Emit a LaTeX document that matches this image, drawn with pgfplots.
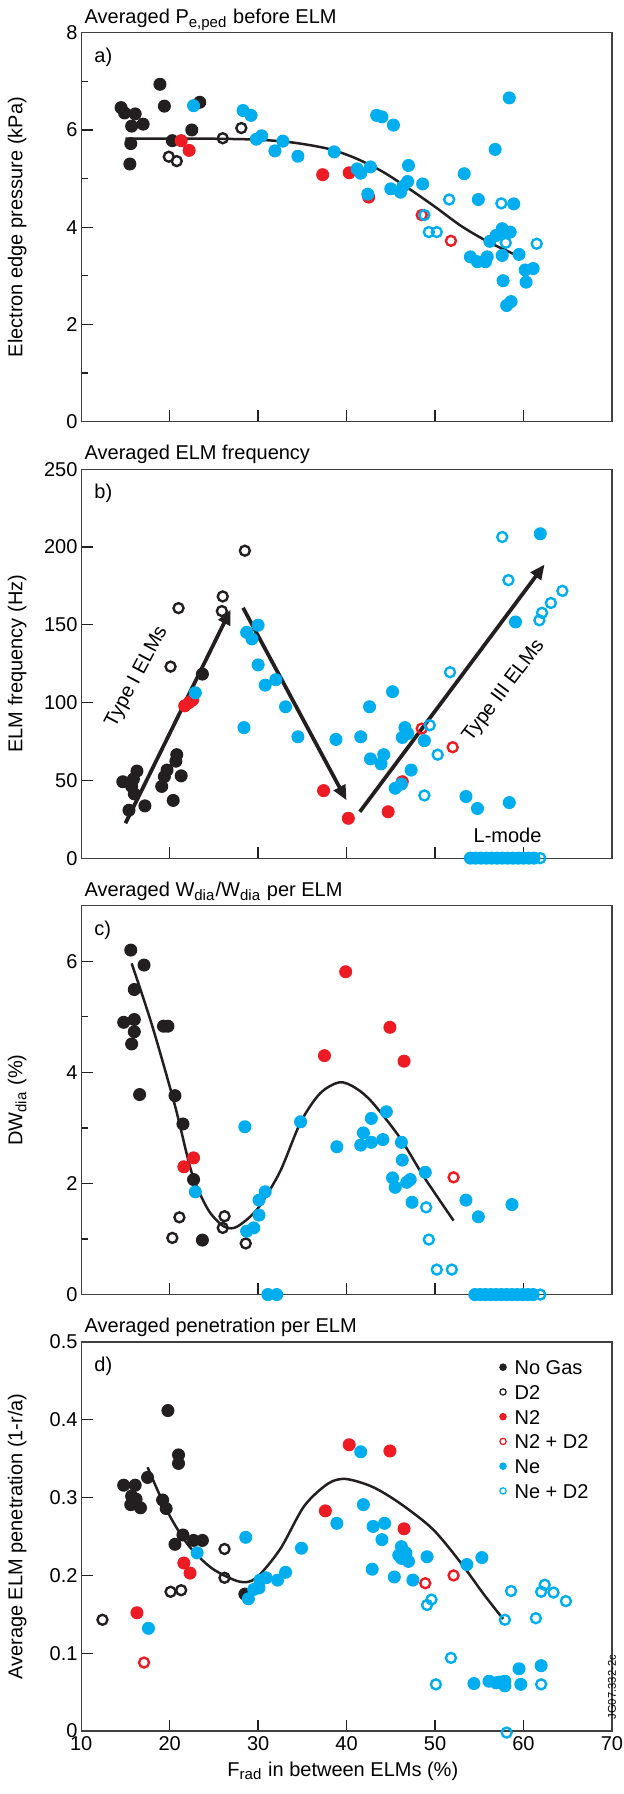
\documentclass[border=0pt]{standalone}
\usepackage{fontspec}
\setmainfont{Liberation Sans}
\usepackage{pgfplots}
\pgfplotsset{compat=1.18}
\usetikzlibrary{arrows.meta}

\definecolor{cK}{RGB}{35,31,32}
\definecolor{cR}{RGB}{237,28,36}
\definecolor{cB}{RGB}{0,174,239}

\pgfplotsset{
  panel/.style={
    width=212.3pt, height=155.6pt, scale only axis,
    xmin=10, xmax=70, xtick={10,20,...,70},
    clip=false,
    axis line style={black!75, line width=0.5pt},
    tick style={cK, line width=0.5pt},
    tick pos=left, tick align=inside,
    major tick length=4.6pt, minor tick length=2.6pt,
    /pgf/number format/assume math mode=true,
    yticklabel style={inner sep=1.3pt},
    xticklabel style={inner sep=2pt},
    ylabel style={at={(axis description cs:-0.102,0.5)}, anchor=south, inner sep=0pt},
  },
  gK/.style={only marks, mark=*, mark size=2.4pt, color=cK, mark options={draw=none}},
  gKo/.style={only marks, mark=o, mark size=2.0pt, color=cK, mark options={line width=0.95pt}},
  gR/.style={only marks, mark=*, mark size=2.4pt, color=cR, mark options={draw=none}},
  gRo/.style={only marks, mark=o, mark size=2.0pt, color=cR, mark options={line width=0.95pt}},
  gB/.style={only marks, mark=*, mark size=2.4pt, color=cB, mark options={draw=none}},
  gBo/.style={only marks, mark=o, mark size=2.0pt, color=cB, mark options={line width=0.95pt}},
  fit/.style={smooth, cK, line width=1pt, no marks, forget plot},
  arr/.style={cK, line width=1.5pt, no marks, forget plot, -{Triangle[length=6pt,width=5pt]}},
}
\tikzset{
  plab/.style={anchor=north west, inner sep=0pt, xshift=5.1pt, yshift=-5.9pt},
  ptitle/.style={anchor=base west, inner sep=0pt, xshift=1.2pt, yshift=3.7pt},
}

\begin{document}
\begin{tikzpicture}[font=\fontsize{8}{9.6}\selectfont]

% a) pedestal pressure
\begin{axis}[panel, name=pa, at={(0,0)}, anchor=north west,
  ymin=0, ymax=8, ytick={0,2,4,6,8}, minor ytick={1,3,5,7}, xticklabels={},
  ylabel={Electron edge pressure (kPa)}]
\addplot[fit] coordinates {(15,5.82) (20,5.82) (25,5.82) (30,5.80) (34,5.74) (38,5.61) (41,5.42) (44,5.15) (47,4.80) (50,4.42) (53,4.02) (56,3.70) (59,3.44)};
\addplot[gK] coordinates {(14.5,6.46) (14.9,6.35) (16.1,6.33) (15.7,6.08) (17.0,6.12) (15.6,5.72) (15.5,5.30) (18.9,6.94) (19.4,6.49) (20.3,5.78) (22.5,6.00) (23.4,6.57)};
\addplot[gKo] coordinates {(19.9,5.45) (20.8,5.36) (26.0,5.83) (28.1,6.04)};
\addplot[gR] coordinates {(21.3,5.78) (22.2,5.58) (37.3,5.08) (40.3,5.12) (42.5,4.62)};
\addplot[gRo] coordinates {(48.5,4.25) (51.8,3.72)};
\addplot[gB] coordinates {(22.7,6.50) (28.3,6.40) (29.2,6.30) (29.8,5.81) (30.4,5.88) (31.9,5.57) (32.8,5.77) (34.5,5.46) (38.6,5.55) (41.2,5.20) (41.6,5.11) (42.7,5.24) (42.4,4.68) (43.4,6.30) (44.0,6.27) (45.3,6.10) (45.0,4.79) (46.1,4.72) (46.4,4.84) (47.0,5.27) (46.9,4.94) (48.6,4.89) (53.3,5.10) (54.9,4.57) (56.8,5.60) (54.0,3.39) (54.8,3.29) (55.7,3.29) (55.9,3.39) (56.2,3.71) (56.9,3.83) (57.6,3.97) (58.0,3.90) (58.5,3.90) (57.6,3.42) (57.7,2.90) (58.1,2.39) (58.6,2.47) (58.4,6.66) (58.9,4.48) (59.5,3.44) (60.2,3.12) (61.1,3.15) (60.3,2.87)};
\addplot[gBo] coordinates {(51.6,4.57) (48.8,4.25) (49.3,3.90) (50.2,3.90) (57.5,4.49) (58.0,3.68) (61.5,3.66)};
\node[plab] at (rel axis cs:0,1) {a)};
\node[ptitle] at (rel axis cs:0,1) {Averaged P\textsubscript{e,ped} before ELM};
\end{axis}

% b) ELM frequency
\begin{axis}[panel, name=pb, at={(0,-174.6pt)}, anchor=north west,
  ymin=0, ymax=250, ytick={0,50,...,250}, xticklabels={},
  ylabel={ELM frequency (Hz)}]
\addplot[gK] coordinates {(14.7,49.1) (15.9,50.8) (15.7,46.1) (16.0,41.3) (16.3,56.0) (15.4,30.8) (17.2,33.6) (19.1,46.1) (19.4,52.4) (19.7,56.6) (20.4,37.1) (20.7,62.3) (20.8,66.5) (21.3,52.9) (23.7,118.3)};
\addplot[gKo] coordinates {(20.1,123.1) (21.0,160.7) (26.0,168.2) (25.9,158.8) (28.5,197.6)};
\addplot[gR] coordinates {(21.7,97.9) (22.2,100.0) (22.6,101.7) (37.4,43.4) (40.2,25.6) (44.7,29.8) (46.3,49.1)};
\addplot[gRo] coordinates {(48.5,83.3) (52.0,71.3)};
\addplot[gB] coordinates {(22.9,106.3) (28.7,145.1) (29.3,140.9) (30.0,149.7) (30.0,124.2) (30.8,111.2) (32.0,114.7) (33.1,97.3) (34.5,78.0) (28.4,83.9) (38.8,76.3) (41.6,78.0) (42.6,97.3) (42.7,63.8) (43.9,60.6) (44.2,66.5) (45.2,107.0) (46.3,77.6) (46.6,83.9) (46.9,80.1) (47.3,56.6) (48.8,75.5) (45.5,44.9) (46.2,47.6) (53.5,39.6) (54.8,31.9) (58.4,35.7) (59.1,151.8) (61.9,208.5)
  (54.0,0) (54.6,0) (55.2,0) (55.8,0) (56.4,0) (57.0,0) (57.6,0) (58.2,0) (58.8,0) (59.4,0) (60.0,0) (60.6,0) (61.2,0)};
\addplot[gBo] coordinates {(51.7,119.5) (49.4,85.4) (48.8,40.3) (50.3,66.5) (57.6,206.4) (58.3,178.7) (61.8,152.9) (62.1,157.7) (63.1,164.0) (64.4,171.8) (61.9,0)};
\addplot[arr] coordinates {(15.0,22.4) (26.9,159.8)};
\addplot[arr] coordinates {(28.3,160.9) (40.0,37.1)};
\addplot[arr] coordinates {(41.5,29.8) (62.4,188.8)};
\node[rotate=62] at (axis cs:16.3,116.4) {Type I ELMs};
\node[rotate=53] at (axis cs:57.8,107.4) {Type III ELMs};
\node at (axis cs:58.2,14.7) {L-mode};
\node[plab] at (rel axis cs:0,1) {b)};
\node[ptitle] at (rel axis cs:0,1) {Averaged ELM frequency};
\end{axis}

% c) energy loss per ELM
\begin{axis}[panel, name=pc, at={(0,-349.2pt)}, anchor=north west,
  ymin=0, ymax=7, ytick={0,2,4,6}, minor ytick={1,3,5}, xticklabels={},
  ylabel={DW\textsubscript{dia} (\%)}]
\addplot[fit] coordinates {(15.7,5.96) (18.0,4.85) (20.6,3.40) (22.5,2.19) (24.3,1.54) (26.0,1.24) (27.3,1.20) (28.8,1.36) (30.2,1.60) (32.5,2.22) (34.8,3.10) (37.0,3.62) (39.2,3.82) (41.0,3.72) (42.9,3.46) (46.0,2.83) (48.7,2.13) (52.1,1.33)};
\addplot[gK] coordinates {(15.6,6.20) (17.1,5.93) (16.0,5.49) (14.8,4.90) (16.0,4.95) (16.0,4.73) (15.7,4.51) (16.6,3.60) (19.3,4.83) (19.8,4.83) (20.6,3.58) (21.5,3.07) (22.7,2.07) (23.7,0.98)};
\addplot[gKo] coordinates {(20.3,1.02) (21.1,1.39) (26.0,1.20) (26.2,1.41) (28.6,0.92)};
\addplot[gR] coordinates {(21.6,2.30) (22.7,2.46) (37.5,4.30) (39.9,5.81) (44.9,4.81) (46.5,4.20)};
\addplot[gRo] coordinates {(52.1,2.11)};
\addplot[gB] coordinates {(22.9,1.85) (28.5,3.02) (28.7,1.14) (29.5,1.20) (30.1,1.43) (30.1,1.70) (30.8,1.85) (34.8,3.11) (38.9,2.66) (41.6,2.69) (41.9,2.91) (42.8,2.74) (42.8,3.17) (44.1,2.79) (44.5,3.29) (46.2,2.74) (46.3,2.42) (45.2,2.10) (45.5,1.93) (46.8,2.02) (47.2,2.07) (47.4,1.66) (48.9,2.20) (53.5,1.70) (54.9,1.40) (58.7,1.62)
  (31.1,0) (32.1,0) (54.5,0) (55.1,0) (55.7,0) (56.3,0) (56.9,0) (57.5,0) (58.1,0) (58.7,0) (59.3,0) (59.9,0) (60.5,0) (61.1,0)};
\addplot[gBo] coordinates {(49.0,1.57) (49.3,0.99) (50.2,0.45) (51.9,0.45) (61.9,0)};
\node[plab] at (rel axis cs:0,1) {c)};
\node[ptitle] at (rel axis cs:0,1) {Averaged W\textsubscript{dia}/W\textsubscript{dia} per ELM};
\end{axis}

% d) penetration per ELM
\begin{axis}[panel, name=pd, at={(0,-523.8pt)}, anchor=north west,
  ymin=0, ymax=0.5, ytick={0,0.1,0.2,0.3,0.4,0.5},
  ylabel={Average ELM penetration (1-r/a)},
  xlabel={F\textsubscript{rad} in between ELMs (\%)},
  xlabel style={at={(axis description cs:0.493,0)}, anchor=base, yshift=-18pt},
  legend cell align=left,
  legend image code/.code={\draw[#1, mark size=1.25pt, mark options={line width=0.5pt}] plot coordinates {(0pt,0pt)};},
  legend style={at={(axis description cs:0.788,0.956)}, anchor=north west, draw=none, fill=none,
    inner sep=0pt, row sep=3.9pt, nodes={inner sep=0pt, text height=6pt, text depth=0pt},
    /tikz/every odd column/.append style={column sep=3.4pt}}]
\addplot[fit] coordinates {(17.5,0.339) (19.8,0.281) (22.1,0.239) (24.8,0.209) (27.9,0.192) (29.8,0.197) (32.5,0.234) (35.2,0.289) (37.9,0.318) (39.9,0.324) (42.9,0.314) (46.0,0.293) (49.7,0.260) (52.8,0.218) (55.5,0.176) (57.7,0.144)};
\addplot[gK] coordinates {(14.8,0.316) (16.1,0.316) (15.7,0.302) (16.2,0.298) (15.6,0.291) (16.7,0.287) (17.5,0.326) (19.2,0.297) (19.6,0.286) (19.8,0.412) (21.0,0.355) (21.0,0.344) (20.6,0.240) (21.5,0.252) (22.7,0.245) (23.7,0.245) (28.5,0.176)};
\addlegendentry{No Gas}
\addplot[gKo] coordinates {(12.4,0.143) (20.1,0.179) (21.3,0.181) (26.2,0.234) (26.2,0.197)};
\addlegendentry{D2}
\addplot[gR] coordinates {(16.3,0.152) (21.6,0.216) (22.3,0.203) (37.6,0.283) (40.3,0.368) (44.9,0.360) (46.5,0.260)};
\addlegendentry{N2}
\addplot[gRo] coordinates {(17.1,0.088) (48.9,0.190) (52.1,0.200)};
\addlegendentry{N2 + D2}
\addplot[gB] coordinates {(17.6,0.132) (23.1,0.229) (28.6,0.249) (28.9,0.170) (29.5,0.182) (30.1,0.184) (30.2,0.194) (30.9,0.197) (32.2,0.194) (33.1,0.204) (34.9,0.235) (38.9,0.267) (41.6,0.359) (41.9,0.291) (43.0,0.263) (44.3,0.267) (44.0,0.246) (42.9,0.208) (45.4,0.198) (46.2,0.237) (45.9,0.226) (46.7,0.229) (46.2,0.222) (47.0,0.218) (47.5,0.194) (49.1,0.224) (53.6,0.214) (55.3,0.223) (54.4,0.061) (56.1,0.064) (56.9,0.062) (57.3,0.063) (57.9,0.064) (57.9,0.058) (59.5,0.080) (59.7,0.060) (62.0,0.084)};
\addlegendentry{Ne}
\addplot[gBo] coordinates {(49.1,0.162) (49.6,0.169) (50.1,0.060) (51.8,0.094) (57.9,0.143) (58.6,0.180) (61.4,0.145) (62.0,0.179) (62.4,0.188) (63.4,0.178) (64.8,0.167) (62.0,0.060) (58.1,-0.002)};
\addlegendentry{Ne + D2}
\node[plab] at (rel axis cs:0,1) {d)};
\node[ptitle] at (rel axis cs:0,1) {Averaged penetration per ELM};
\node[rotate=90, font=\fontsize{4.5}{5}\selectfont, xshift=2.4pt] at (rel axis cs:1,0.097) {JG07.332-2c};
\end{axis}

\pgfresetboundingbox
\path (-32.5pt,13.1pt) rectangle (217.1pt,-704.6pt);
\end{tikzpicture}
\end{document}
